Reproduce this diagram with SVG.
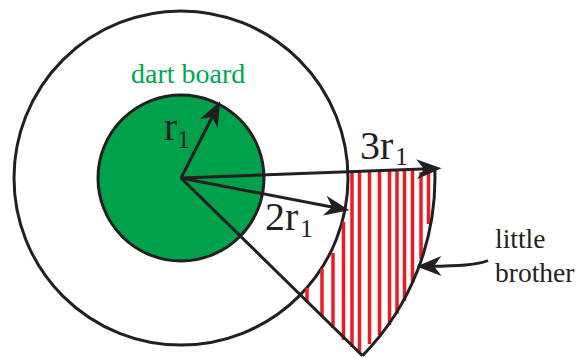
<svg xmlns="http://www.w3.org/2000/svg" width="577" height="358" viewBox="0 0 577 358">
<style>
.ring{fill:none;stroke:#231F20;stroke-width:3}
.board{fill:#00A14B;stroke:#231F20;stroke-width:3}
.ln{fill:none;stroke:#231F20;stroke-width:3}
.hatch{stroke:#ED1C24;stroke-width:3.5}
.lbl{font-family:"Liberation Serif","Times New Roman",serif;fill:#231F20}
.big{font-size:40px}
.sm{font-size:27.5px}
.green{fill:#00A651;font-size:28px}
</style>
<defs>
<marker id="ah" markerUnits="userSpaceOnUse" markerWidth="30" markerHeight="30" viewBox="-12 -10 24 20" refX="0" refY="0" orient="auto" overflow="visible">
<path d="M10,0 L-10,-8 L-4,0 L-10,8 Z" fill="#231F20"/>
</marker>
</defs>
<rect width="577" height="358" fill="#fff"/>
<g id="outer-circle"><circle class="ring" cx="181" cy="178" r="167"/></g>
<g id="dart-board">
<circle class="board" cx="181" cy="178" r="83"/>
<text class="lbl green" x="131" y="83">dart board</text>
</g>
<g id="little-brother-region">
<g class="hatch">
<line x1="307" y1="288" x2="307" y2="302"/>
<line x1="322" y1="269" x2="322" y2="317"/>
<line x1="333" y1="253" x2="333" y2="328"/>
<line x1="343.5" y1="222" x2="343.5" y2="340"/>
<line x1="352" y1="171" x2="352" y2="347"/>
<line x1="359.5" y1="171" x2="359.5" y2="353"/>
<line x1="369.5" y1="171" x2="369.5" y2="344"/>
<line x1="379.5" y1="170.5" x2="379.5" y2="335"/>
<line x1="389.5" y1="170" x2="389.5" y2="325"/>
<line x1="397" y1="170" x2="397" y2="314"/>
<line x1="404.5" y1="170" x2="404.5" y2="301"/>
<line x1="412.5" y1="170" x2="412.5" y2="282"/>
<line x1="421" y1="172" x2="421" y2="259"/>
<line x1="428.5" y1="172" x2="428.5" y2="224"/>
</g>
<path class="ln" d="M434.8,169 A254,254 0 0 1 362.5,355.7"/>
</g>
<g id="connectors">
<line class="ln" x1="181" y1="178" x2="362.5" y2="355.7" stroke-width="2.6"/>
<line class="ln" x1="181" y1="178" x2="214.5" y2="112.5" marker-end="url(#ah)"/>
<line class="ln" x1="181" y1="178" x2="337" y2="208" marker-end="url(#ah)"/>
<line class="ln" x1="181" y1="178" x2="429" y2="168.7" marker-end="url(#ah)"/>
<path class="ln" d="M488,260.5 C478,265 458,265.8 429,266.3" marker-end="url(#ah)"/>
</g>
<g id="labels">
<text class="lbl big" x="164" y="139.5">r<tspan font-size="25" dy="8">1</tspan></text>
<text class="lbl big" x="360" y="159">3r<tspan font-size="25" dx="2" dy="6">1</tspan></text>
<text class="lbl big" x="265" y="230">2r<tspan font-size="25" dx="2" dy="7">1</tspan></text>
<text class="lbl sm" x="495" y="248">little</text>
<text class="lbl sm" x="495" y="281.5">brother</text>
</g>
</svg>
